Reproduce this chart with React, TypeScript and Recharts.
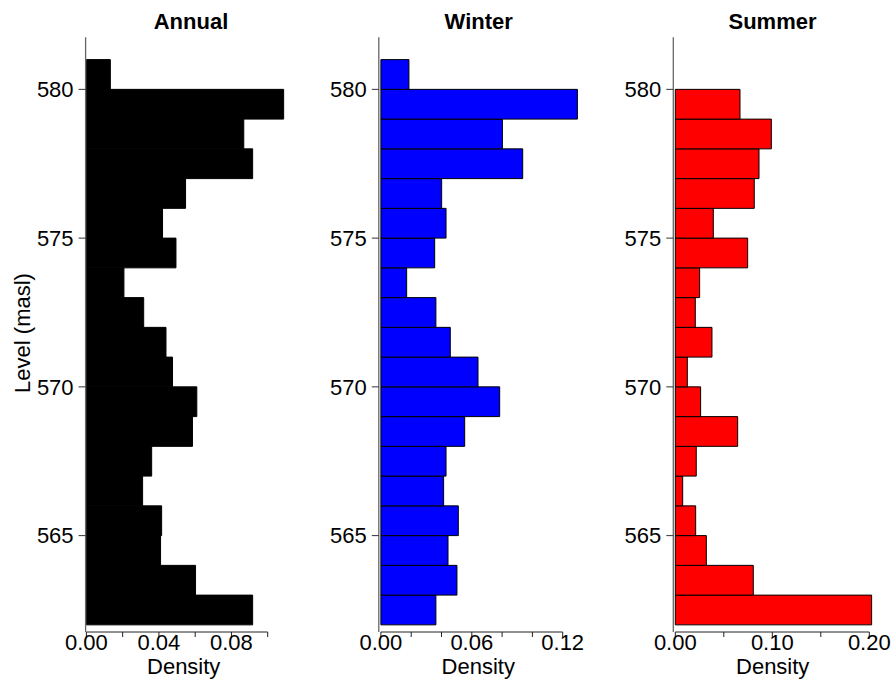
import { BarChart, Bar, XAxis, YAxis, ReferenceLine } from "recharts";

// lower edge of each 1 m level bin (masl)
const binStarts = [562, 563, 564, 565, 566, 567, 568, 569, 570, 571, 572, 573, 574, 575, 576, 577, 578, 579, 580];

const annualDensity = [0.0917, 0.0602, 0.0409, 0.0415, 0.031, 0.036, 0.0585, 0.0609, 0.0475, 0.0439, 0.0316, 0.0207, 0.0494, 0.042, 0.0547, 0.0917, 0.0868, 0.1088, 0.0132];
const winterDensity = [0.0363, 0.0502, 0.0443, 0.0511, 0.0414, 0.043, 0.0553, 0.0784, 0.0641, 0.0458, 0.0363, 0.017, 0.0355, 0.043, 0.0401, 0.0936, 0.0802, 0.1297, 0.0185];
const summerDensity = [0.2024, 0.0804, 0.032, 0.021, 0.0076, 0.0216, 0.0643, 0.0261, 0.0124, 0.0378, 0.0206, 0.0251, 0.0746, 0.0392, 0.0814, 0.0863, 0.099, 0.0667, 0];

const levelTicks = [565, 570, 575, 580];
const annualTicks = [0, 0.02, 0.04, 0.06, 0.08, 0.1];
const annualLabels = [0, 0.04, 0.08];
const winterTicks = [0, 0.02, 0.04, 0.06, 0.08, 0.1, 0.12];
const winterLabels = [0, 0.06, 0.12];
const summerTicks = [0, 0.05, 0.1, 0.15, 0.2];
const summerLabels = [0, 0.1, 0.2];

const FONT = "'Liberation Sans', Arial, sans-serif";
const H = 679;
const PLOT_TOP = 37.3;
const PLOT_BOTTOM = 632;
const LEVEL_DOMAIN: [number, number] = [561.76, 581.75];

type PanelProps = {
  left: number;
  width: number;
  axisX: number;
  zeroX: number;
  unitPx: number;
  plotRight: number;
  values: number[];
  fill: string;
  ticks: number[];
  labels: number[];
};

function HistPanel({ left, width, axisX, zeroX, unitPx, plotRight, values, fill, ticks, labels }: PanelProps) {
  const data = binStarts.map((lo, i) => ({ mid: lo + 0.5, density: values[i] }));
  const xDomain: [number, number] = [(axisX - zeroX) / unitPx, (plotRight - zeroX) / unitPx];
  const yAxisW = 60;
  const bandPx = (PLOT_BOTTOM - PLOT_TOP) / (LEVEL_DOMAIN[1] - LEVEL_DOMAIN[0]);
  const axisEnd = ticks[ticks.length - 1];

  return (
    <div style={{ position: "absolute", left, top: 0 }}>
      <BarChart
        width={width}
        height={H}
        data={data}
        layout="vertical"
        barCategoryGap={0}
        barGap={0}
        margin={{ top: PLOT_TOP, bottom: 0, left: axisX - left - yAxisW, right: left + width - plotRight }}
      >
        <XAxis
          type="number"
          dataKey="density"
          domain={xDomain}
          allowDataOverflow
          ticks={ticks}
          interval={0}
          height={H - PLOT_BOTTOM}
          axisLine={false}
          tickSize={5}
          tickMargin={-3}
          tickLine={{ stroke: "#222" }}
          tickFormatter={(v: number) => (labels.some((l) => Math.abs(l - v) < 1e-9) ? v.toFixed(2) : "")}
          tick={{ fontSize: 22, fill: "#000", fontFamily: FONT }}
        />
        <YAxis
          type="number"
          dataKey="mid"
          domain={LEVEL_DOMAIN}
          allowDataOverflow
          reversed
          ticks={levelTicks}
          interval={0}
          width={yAxisW}
          axisLine={{ stroke: "#666", strokeWidth: 1.3 }}
          tickLine={{ stroke: "#333" }}
          tickSize={7}
          tickMargin={5}
          tick={{ fontSize: 22, fill: "#000", fontFamily: FONT }}
        />
        <ReferenceLine
          segment={[
            { x: 0, y: LEVEL_DOMAIN[0] },
            { x: axisEnd, y: LEVEL_DOMAIN[0] },
          ]}
          stroke="#222"
          strokeWidth={1}
        />
        <Bar dataKey="density" fill={fill} stroke="#000" strokeWidth={1} barSize={bandPx - 0.01} isAnimationActive={false} />
      </BarChart>
    </div>
  );
}

export default function App() {
  return (
    <div style={{ position: "absolute", left: 0, top: 0, width: 892, height: H, background: "#fff", fontFamily: FONT }}>
      <HistPanel left={0} width={300} axisX={85.6} zeroX={86.4} unitPx={1813} plotRight={296} values={annualDensity} fill="#000000" ticks={annualTicks} labels={annualLabels} />
      <HistPanel left={300} width={300} axisX={378.8} zeroX={380.9} unitPx={1515} plotRight={590} values={winterDensity} fill="#0000ff" ticks={winterTicks} labels={winterLabels} />
      <HistPanel left={600} width={292} axisX={673.3} zeroX={675.3} unitPx={970} plotRight={882} values={summerDensity} fill="#ff0000" ticks={summerTicks} labels={summerLabels} />
      <svg width={892} height={H} style={{ position: "absolute", left: 0, top: 0, pointerEvents: "none" }}>
        <g fontFamily={FONT} fill="#000" textAnchor="middle">
          <text x={191} y={29.3} fontSize={22} fontWeight="bold">Annual</text>
          <text x={478.7} y={29.3} fontSize={22} fontWeight="bold">Winter</text>
          <text x={772.5} y={29.3} fontSize={22} fontWeight="bold">Summer</text>
          <text x={183.7} y={673.5} fontSize={22}>Density</text>
          <text x={478.3} y={673.5} fontSize={22}>Density</text>
          <text x={772.7} y={673.5} fontSize={22}>Density</text>
          <text x={30} y={333} fontSize={22} transform="rotate(-90 30 333)">Level (masl)</text>
        </g>
      </svg>
    </div>
  );
}
